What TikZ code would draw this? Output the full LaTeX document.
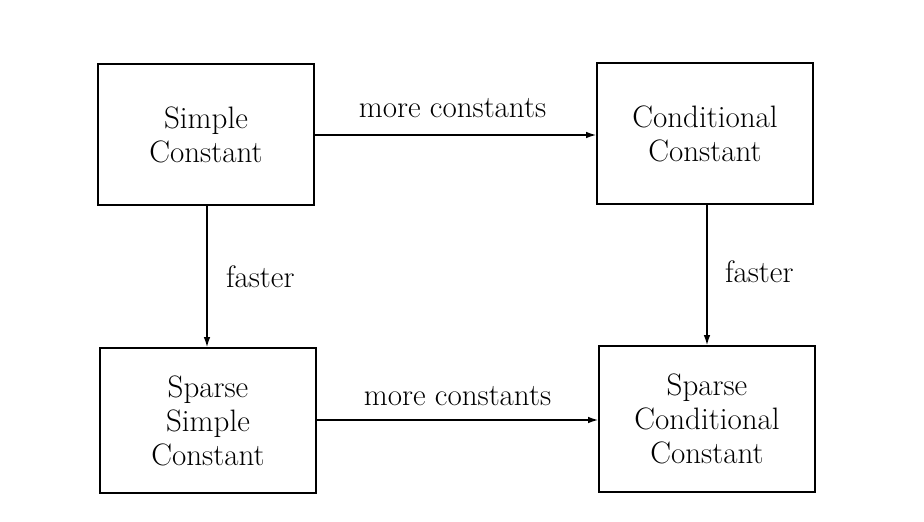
\documentclass[tikz,border=0pt]{standalone}
\usetikzlibrary{arrows.meta}
\begin{document}
\begin{tikzpicture}[x=1pt,y=-1pt,
  box/.style={draw,line width=1.6pt,minimum width=216pt,align=center,inner sep=0pt,font=\fontsize{31}{34}\selectfont},
  conn/.style={line width=1.4pt,-{Latex[length=10pt,width=6.5pt]}},
  lbl/.style={font=\fontsize{31}{34}\selectfont}]
\useasboundingbox (0,0) rectangle (924,522);
\node[box,minimum height=141pt] (sc) at (206,134.5) {Simple\\Constant};
\node[box,minimum height=141pt] (cc) at (705,133.5) {Conditional\\Constant};
\node[box,minimum height=145pt] (ssc) at (208,420.5) {Sparse\\Simple\\Constant};
\node[box,minimum height=146pt] (scc) at (707,419) {Sparse\\Conditional\\Constant};
\draw[conn] (sc.east |- 0,135) -- node[lbl,midway,above=13pt,xshift=-3pt] {more constants} (cc.west |- 0,135);
\draw[conn] (ssc.east |- 0,420) -- node[lbl,midway,above=10pt] {more constants} (scc.west |- 0,420);
\draw[conn] (207,0 |- sc.south) -- node[lbl,midway,right=15pt] {faster} (207,0 |- ssc.north);
\draw[conn] (707,0 |- cc.south) -- node[lbl,midway,right=14pt,yshift=3pt] {faster} (707,0 |- scc.north);
\end{tikzpicture}
\end{document}
